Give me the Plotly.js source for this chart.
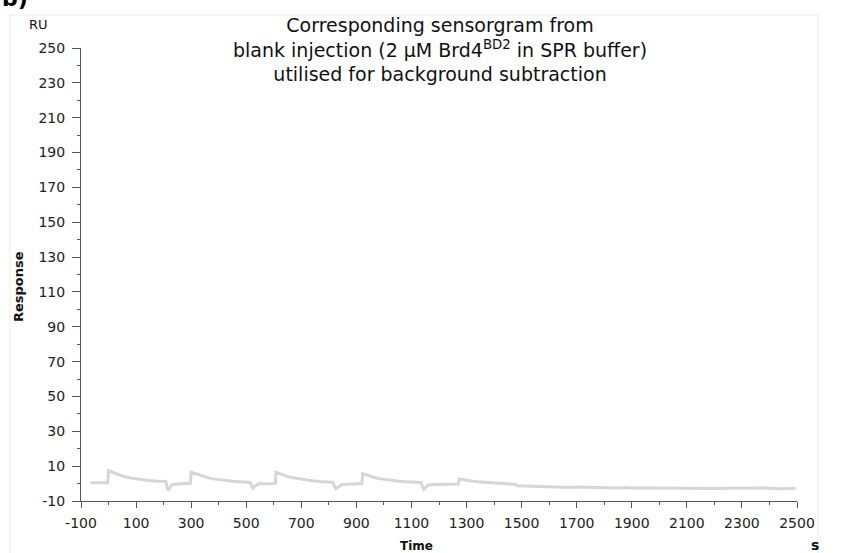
<!DOCTYPE html>
<html>
<head>
<meta charset="utf-8">
<script src="https://cdn.plot.ly/plotly-3.0.1.min.js"></script>
<style>
  html, body { margin: 0; padding: 0; background: #fff; }
  #chart { width: 850px; height: 553px; }
</style>
</head>
<body>
<div id="chart"></div>
<script>
// Blank-injection sensorgram: time (s) vs response (RU)
const timeS = [
  -65, -40, -20, -3, 0, 5, 15, 30, 45, 60, 80, 100, 120, 145, 170, 195, 208, 212, 217, 222, 230, 250, 270, 285, 297,
  300, 308, 320, 340, 360, 380, 400, 425, 450, 475, 500, 515, 520, 525, 532, 540, 550, 556, 575, 595, 606,
  608, 615, 630, 650, 670, 690, 715, 740, 765, 790, 815, 820, 825, 835, 845, 870, 895, 920,
  923, 930, 945, 965, 985, 1005, 1030, 1055, 1080, 1105, 1135, 1140, 1145, 1153, 1162, 1185, 1210, 1240, 1270,
  1274, 1285, 1310, 1340, 1370, 1400, 1430, 1460, 1480, 1485, 1520, 1560, 1600, 1650, 1680, 1700, 1750, 1800,
  1850, 1880, 1900, 1950, 2000, 2050, 2100, 2150, 2200, 2250, 2300, 2350, 2370, 2400, 2450, 2495
];
const responseRU = [
  0.5, 0.5, 0.4, 0.5, 7.4, 7.2, 6.5, 5.5, 4.6, 3.9, 3.2, 2.7, 2.2, 1.8, 1.5, 1.3, 1.2, -2.0, -3.9, -2.5, -0.6, -0.3, -0.1, 0.1, 0.2,
  6.6, 6.2, 5.3, 4.2, 3.4, 2.7, 2.2, 1.7, 1.3, 1.0, 0.7, 0.6, -1.5, -2.7, -1.4, -0.5, 0.2, -0.3, -0.2, 0.0, 0.1,
  6.6, 6.1, 5.0, 4.0, 3.3, 2.7, 2.1, 1.6, 1.2, 0.9, 0.7, -1.5, -2.9, -2.0, -0.6, -0.4, -0.2, 0.0,
  5.7, 5.3, 4.4, 3.5, 2.8, 2.3, 1.8, 1.3, 1.0, 0.8, 0.6, -1.8, -3.3, -2.0, -0.8, -0.6, -0.4, -0.3, -0.2,
  2.6, 2.2, 1.6, 1.1, 0.7, 0.3, 0.0, -0.3, -0.5, -1.2, -1.4, -1.6, -1.8, -2.0, -2.2, -2.0, -2.3, -2.3,
  -2.5, -2.2, -2.6, -2.5, -2.6, -2.8, -2.6, -2.7, -2.8, -2.7, -2.8, -2.6, -2.5, -2.8, -2.9, -2.7
];

// Axis ticks
const yTickVals = [-10, 10, 30, 50, 70, 90, 110, 130, 150, 170, 190, 210, 230, 250];
const xTickVals = [-100, 100, 300, 500, 700, 900, 1100, 1300, 1500, 1700, 1900, 2100, 2300, 2500];

const titleLines = [
  'Corresponding sensorgram from',
  'blank injection (2 µM Brd4<sup>BD2</sup> in SPR buffer)',
  'utilised for background subtraction'
];

const FONT = 'DejaVu Sans, Arial, sans-serif';

// plot-area geometry in pixels, used to place free-standing labels
const PX = { left: 81, width: 716, top: 48, height: 453 };
const px2x = (p) => (p - PX.left) / PX.width;
const px2y = (p) => (PX.top + PX.height - p) / PX.height;

const trace = {
  x: timeS,
  y: responseRU,
  type: 'scatter',
  mode: 'lines',
  line: { color: '#d6d6d6', width: 3 },
  hoverinfo: 'skip'
};

const axisCommon = {
  showgrid: false,
  zeroline: false,
  showline: true,
  linecolor: '#555',
  linewidth: 1,
  ticks: 'outside',
  tickcolor: '#555',
  tickwidth: 1,
  tickfont: { family: FONT, size: 14, color: '#222' },
  tickmode: 'array'
};

const layout = {
  width: 850,
  height: 553,
  margin: { l: 81, r: 53, t: 48, b: 52 },
  paper_bgcolor: '#fff',
  plot_bgcolor: '#fff',
  showlegend: false,
  xaxis: Object.assign({}, axisCommon, {
    range: [-100, 2500],
    tickvals: xTickVals,
    ticktext: xTickVals.map(String),
    ticklen: 6,
    ticklabelstandoff: 3,
    minor: { tickmode: 'linear', tick0: 0, dtick: 200, ticks: 'outside', ticklen: 3, tickcolor: '#555' }
  }),
  yaxis: Object.assign({}, axisCommon, {
    range: [-10, 250],
    tickvals: yTickVals,
    ticktext: yTickVals.map(String),
    ticklen: 8,
    ticklabelstandoff: 4,
    minor: { tickmode: 'linear', tick0: 0, dtick: 20, ticks: 'outside', ticklen: 3, tickcolor: '#555' }
  }),
  shapes: [
    {
      type: 'rect', xref: 'paper', yref: 'paper',
      x0: px2x(10), x1: px2x(818), y0: -0.3, y1: px2y(15),
      line: { color: '#ececec', width: 1 }, layer: 'below'
    }
  ],
  annotations: [
    {
      text: titleLines.join('<br>'),
      xref: 'paper', yref: 'paper',
      x: px2x(440), y: px2y(49.5),
      xanchor: 'center', yanchor: 'middle',
      showarrow: false,
      font: { family: FONT, size: 19, color: '#111' }
    },
    {
      text: 'RU', xref: 'paper', yref: 'paper',
      x: px2x(38), y: px2y(25),
      xanchor: 'center', yanchor: 'middle', showarrow: false,
      font: { family: FONT, size: 13, color: '#111' }
    },
    {
      text: '<b>Response</b>', xref: 'paper', yref: 'paper',
      x: px2x(18), y: px2y(287),
      xanchor: 'center', yanchor: 'middle', textangle: -90, showarrow: false,
      font: { family: FONT, size: 13, color: '#111' }
    },
    {
      text: '<b>Time</b>', xref: 'paper', yref: 'paper',
      x: px2x(416), y: px2y(546),
      xanchor: 'center', yanchor: 'middle', showarrow: false,
      font: { family: FONT, size: 12, color: '#111' }
    },
    {
      text: '<b>s</b>', xref: 'paper', yref: 'paper',
      x: px2x(815), y: px2y(545),
      xanchor: 'center', yanchor: 'middle', showarrow: false,
      font: { family: FONT, size: 14, color: '#111' }
    },
    {
      text: '<b>b)</b>', xref: 'paper', yref: 'paper',
      x: px2x(0), y: px2y(-1),
      xanchor: 'left', yanchor: 'middle', showarrow: false,
      font: { family: FONT, size: 22, color: '#000' }
    }
  ]
};

Plotly.newPlot('chart', [trace], layout, { displayModeBar: false, staticPlot: true });
</script>
</body>
</html>
